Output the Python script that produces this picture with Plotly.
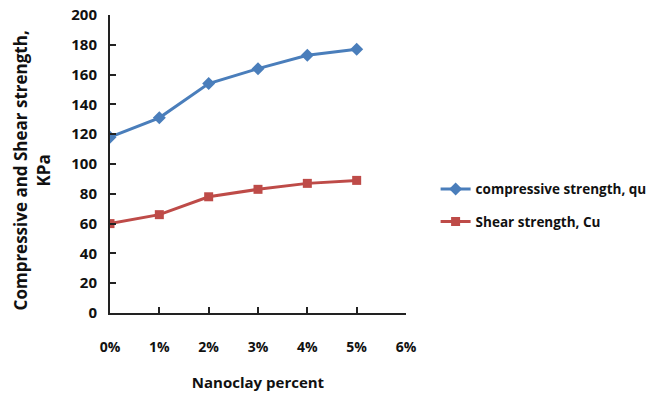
import plotly.graph_objects as go

x_vals = [0, 1, 2, 3, 4, 5]
compressive = [118, 131, 154, 164, 173, 177]
shear = [60, 66, 78, 83, 87, 89]
x_ticks = [0, 1, 2, 3, 4, 5, 6]
x_labels = ["0%", "1%", "2%", "3%", "4%", "5%", "6%"]
y_ticks = [0, 20, 40, 60, 80, 100, 120, 140, 160, 180, 200]

FONT = "Open Sans"
BLUE = "#4A7EBB"
RED = "#BE4B48"

fig = go.Figure()
fig.add_trace(go.Scatter(
    x=x_vals, y=compressive, mode="lines+markers",
    name="compressive strength, qu", legendgroup="a",
    line=dict(color=BLUE, width=3),
    marker=dict(symbol="diamond", size=10, color=BLUE),
))
fig.add_trace(go.Scatter(
    x=x_vals, y=shear, mode="lines+markers",
    name="Shear strength, Cu", legendgroup="b",
    line=dict(color=RED, width=3),
    marker=dict(symbol="square", size=9, color=RED),
))

fig.update_layout(
    width=658, height=395,
    margin=dict(l=110, r=252, t=15, b=82, autoexpand=False),
    paper_bgcolor="white", plot_bgcolor="white",
    font=dict(family=FONT, size=14, color="#111111", weight="bold"),
    showlegend=True,
    legend=dict(
        x=1.10, y=0.36, xanchor="left", yanchor="middle",
        font=dict(family=FONT, size=13.5, color="#111111", weight="bold"),
        bgcolor="rgba(0,0,0,0)", tracegroupgap=12, traceorder="grouped",
    ),
    xaxis=dict(
        range=[0, 6], tickvals=x_ticks, ticktext=x_labels,
        showgrid=False, zeroline=False, automargin=False,
        showline=True, linecolor="#222222", linewidth=2,
        ticks="inside", ticklen=6, tickwidth=2, tickcolor="#222222",
        ticklabelstandoff=20,
        tickfont=dict(family=FONT, size=14, weight="bold"),
        title=dict(text="Nanoclay percent", standoff=23,
                   font=dict(family=FONT, size=15, weight="bold")),
    ),
    yaxis=dict(
        range=[0, 200], tickvals=y_ticks,
        showgrid=False, zeroline=False, automargin=False,
        showline=True, linecolor="#222222", linewidth=2,
        ticks="inside", ticklen=6, tickwidth=2, tickcolor="#222222",
        ticklabelstandoff=8,
        tickfont=dict(family=FONT, size=15, weight="bold"),
    ),
)

fig.add_annotation(
    text="Compressive and Shear strength,<br>KPa",
    xref="paper", yref="paper", x=-0.262, y=0.48,
    xanchor="center", yanchor="middle", textangle=-90,
    showarrow=False,
    font=dict(family=FONT, size=17, weight="bold", color="#111111"),
)

fig.write_html("out.html")
